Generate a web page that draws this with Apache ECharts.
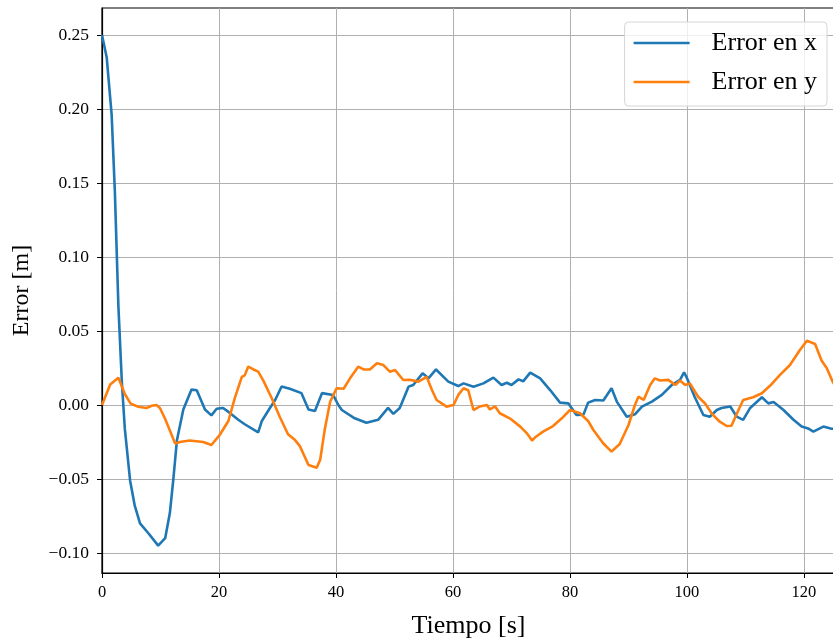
<!DOCTYPE html>
<html><head><meta charset="utf-8">
<script src="https://cdn.jsdelivr.net/npm/echarts@6/dist/echarts.min.js"></script>
<style>html,body{margin:0;padding:0;background:#fff}#c{width:833px;height:641px}</style>
</head><body><div id="c"></div>
<script>
const xTicks = [0, 20, 40, 60, 80, 100, 120];
const yTicks = [-0.10, -0.05, 0.00, 0.05, 0.10, 0.15, 0.20, 0.25];
const seriesNames = ['Error en x', 'Error en y'];
const errXTime = [0,0.8,1.65,2.2,2.8,3.4,3.9,4.8,5.6,6.5,8.0,9.6,10.8,11.6,12.2,12.8,13.9,15.3,16.2,17.6,18.7,19.6,20.7,21.9,23.3,24.4,26.7,27.3,28.7,29.6,30.7,32.1,34.1,35.3,36.4,37.6,39.5,40.4,41.0,43.2,45.2,47.2,48.9,49.8,50.9,52.4,53.2,54.8,55.8,57.1,59.2,60.9,61.8,63.5,65.2,66.9,68.3,69.2,70.0,71.2,72.0,73.2,74.9,76.6,78.3,79.7,81.1,82.3,83.1,84.3,85.7,87.1,88.0,89.7,91.1,92.3,94.0,95.7,97.4,98.8,99.5,99.9,101.3,102.8,103.9,105.1,105.9,107.4,108.5,109.6,110.8,112.8,113.9,114.8,116.5,118.2,119.6,120.7,121.6,123.3,124.7,125.3];
const errXVal = [0.250,0.235,0.196,0.144,0.067,0.015,-0.016,-0.051,-0.068,-0.080,-0.087,-0.095,-0.090,-0.073,-0.050,-0.024,-0.003,0.0104,0.010,-0.003,-0.007,-0.0025,-0.002,-0.0055,-0.010,-0.013,-0.0185,-0.011,-0.002,0.0034,0.0125,0.011,0.008,-0.003,-0.004,0.008,0.0068,0.0,-0.0034,-0.009,-0.012,-0.010,-0.002,-0.006,-0.002,0.0124,0.0135,0.0214,0.018,0.024,0.0158,0.0128,0.0146,0.0124,0.0146,0.0185,0.0135,0.015,0.0135,0.0173,0.016,0.0219,0.018,0.0101,0.0016,0.0011,-0.0068,-0.0065,0.0016,0.0034,0.003,0.0113,0.0023,-0.0079,-0.0063,-0.0011,0.0023,0.0068,0.0135,0.017,0.022,0.019,0.0056,-0.0068,-0.0079,-0.0034,-0.002,-0.001,-0.0079,-0.010,-0.002,0.0052,0.0011,0.002,-0.0034,-0.010,-0.0146,-0.0158,-0.018,-0.0146,-0.016,-0.016];
const errYTime = [0,1.4,2.8,3.9,4.9,6.2,7.6,8.5,9.3,9.9,10.8,11.6,12.5,13.3,15.0,17.3,18.7,20.2,21.6,22.7,23.9,24.4,25.0,25.9,26.7,27.6,29.0,30.4,31.8,33.0,33.8,35.3,36.7,37.3,38.1,39.0,40.1,41.3,42.4,43.8,44.7,45.8,47.0,48.1,49.2,50.1,51.5,52.6,54.1,55.5,56.4,57.2,58.9,60.1,60.9,61.8,62.6,63.5,64.6,65.8,66.3,67.2,68.0,69.7,71.5,72.6,73.5,74.0,75.4,77.1,78.6,80.0,81.7,83.1,84.0,85.7,87.1,88.5,90.0,91.1,91.7,92.6,93.7,94.5,95.4,96.8,98.0,98.8,99.7,100.5,101.9,103.1,104.2,105.6,106.8,107.6,108.8,109.6,111.3,112.8,114.5,115.9,117.6,119.3,120.5,121.9,123.0,123.9,124.9,125.3];
const errYVal = [0,0.0138,0.0184,0.0074,0.0009,-0.0012,-0.002,-0.0005,0,-0.002,-0.0095,-0.0172,-0.026,-0.025,-0.024,-0.025,-0.027,-0.0198,-0.0108,0.0047,0.019,0.020,0.026,0.024,0.0225,0.0163,0.0047,-0.0081,-0.0198,-0.0237,-0.0276,-0.0405,-0.0424,-0.037,-0.016,0.0022,0.0113,0.011,0.018,0.0259,0.024,0.024,0.0282,0.027,0.0225,0.0236,0.0169,0.017,0.0158,0.019,0.0101,0.0034,-0.0011,0,0.0068,0.0113,0.010,-0.0034,-0.001,0,-0.003,-0.001,-0.0056,-0.009,-0.0146,-0.019,-0.024,-0.022,-0.018,-0.0142,-0.009,-0.0034,-0.0056,-0.0108,-0.0169,-0.026,-0.0315,-0.0264,-0.0135,0,0.0056,0.0034,0.0135,0.018,0.0165,0.017,0.0135,0.0165,0.0135,0.0146,0.0056,0.001,-0.0056,-0.0113,-0.0142,-0.014,-0.0034,0.0034,0.0052,0.0079,0.0142,0.0203,0.027,0.0372,0.0434,0.0412,0.030,0.0248,0.0158,0.013];

const zip = (a, b) => a.map((t, i) => [t, b[i]]);
const FONT = 'Liberation Serif';
const fmtY = v => (v < 0 ? '\u2212' : '') + Math.abs(v).toFixed(2);
const chart = echarts.init(document.getElementById('c'), null, {renderer: 'canvas'});
chart.setOption({
  animation: false,
  backgroundColor: '#fff',
  grid: {left: 102, right: -2, top: 8, bottom: 68, containLabel: false, outerBoundsMode: 'none',
         show: true, borderColor: '#000', borderWidth: 1.2, backgroundColor: 'transparent'},
  legend: {
    right: 6, top: 22, orient: 'vertical',
    data: seriesNames,
    icon: 'rect',
    itemWidth: 56, itemHeight: 2.5, itemGap: 11,
    padding: [7, 10, 10, 9],
    borderColor: '#d6d6d6', borderWidth: 1, borderRadius: 4,
    backgroundColor: 'rgba(255,255,255,0.8)',
    textStyle: {fontFamily: FONT, fontSize: 26, color: '#000', padding: [0, 0, 0, 17], lineHeight: 28}
  },
  xAxis: {
    type: 'value', min: 0, max: 125.3,
    name: 'Tiempo [s]', nameLocation: 'middle', nameGap: 40,
    nameTextStyle: {fontFamily: FONT, fontSize: 26, color: '#000'},
    axisLine: {show: true, onZero: false, lineStyle: {color: '#000', width: 1.2}},
    axisTick: {show: true, inside: false, length: 5, lineStyle: {color: '#000'}, customValues: xTicks},
    axisLabel: {fontFamily: FONT, fontSize: 16.5, color: '#000', margin: 11, customValues: xTicks, formatter: v => String(v)},
    splitLine: {show: true, lineStyle: {color: '#b0b0b0', width: 1}}
  },
  yAxis: {
    type: 'value', min: -0.1135, max: 0.2682,
    name: 'Error [m]', nameLocation: 'middle', nameGap: 68,
    nameTextStyle: {fontFamily: FONT, fontSize: 24, color: '#000'},
    axisLine: {show: true, onZero: false, lineStyle: {color: '#000', width: 1.2}},
    axisTick: {show: true, inside: false, length: 5, lineStyle: {color: '#000'}, customValues: yTicks},
    axisLabel: {fontFamily: FONT, fontSize: 17.5, color: '#000', margin: 13, customValues: yTicks, formatter: fmtY},
    splitLine: {show: true, lineStyle: {color: '#b0b0b0', width: 1}}
  },
  series: [
    {name: seriesNames[0], type: 'line', data: zip(errXTime, errXVal), symbol: 'none', smooth: false,
     lineStyle: {color: '#1f77b4', width: 2.6}, itemStyle: {color: '#1f77b4'}},
    {name: seriesNames[1], type: 'line', data: zip(errYTime, errYVal), symbol: 'none', smooth: false,
     lineStyle: {color: '#ff7f0e', width: 2.6}, itemStyle: {color: '#ff7f0e'}}
  ]
});
</script></body></html>
